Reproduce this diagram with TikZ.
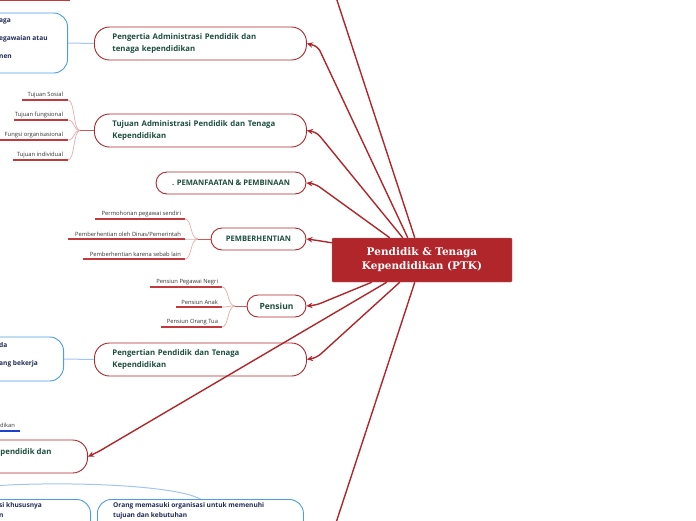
\documentclass[tikz,border=0pt]{standalone}
\usepackage{fontspec}
\setmainfont{Open Sans}
\newfontfamily\ptkfont{DejaVu Serif}
\usetikzlibrary{arrows.meta}
\definecolor{mred}{HTML}{B0262B}
\definecolor{lred}{HTML}{E9A9A9}
\definecolor{leafred}{HTML}{C23A3E}
\definecolor{tgreen}{HTML}{1D4E3F}
\definecolor{bblue}{HTML}{4A9FE3}
\definecolor{lblue}{HTML}{A3C4F3}
\definecolor{dblue}{HTML}{1E40D0}
\definecolor{navy}{HTML}{1F2B55}
\definecolor{leaftext}{HTML}{333333}
\begin{document}
\begin{tikzpicture}[x=1pt,y=-1pt,
  mbox/.style={draw=mred, line width=0.9pt, fill=white, rounded corners=15pt, text=tgreen,
    font=\bfseries\fontsize{7.8}{11.5}\selectfont, inner xsep=18pt, inner ysep=0pt,
    minimum height=33pt, align=left, text width=176pt},
  sbox/.style={draw=mred, line width=0.9pt, fill=white, rounded corners=11pt, text=tgreen,
    font=\bfseries\fontsize{7.6}{9}\selectfont, minimum height=22pt, inner sep=0pt, align=center},
  conn/.style={draw=mred, line width=1.4pt, rounded corners=5pt, -{Stealth[length=6pt,width=5.5pt]}},
  leaf/.style={text=leaftext, font=\fontsize{5.8}{6}\selectfont, anchor=south east, inner sep=0.8pt},
  leafline/.style={draw=leafred, line width=1.5pt},
  brace/.style={draw=lred, line width=0.7pt},
  stub/.style={draw=leafred!85, line width=1pt},
  bbox/.style={draw=bblue, line width=0.9pt, fill=white, rounded corners=14pt},
  btext/.style={text=navy, font=\bfseries\fontsize{6.6}{8}\selectfont, inner sep=0pt},
  bconn/.style={draw=lblue, line width=1pt}
]
\useasboundingbox (0,0) rectangle (696,520);

% clipped node at top left
\coordinate (tl0) at (-5,0.5);
\coordinate (tl1) at (70,0.5);
\draw[leafred, line width=1.5pt] (tl0) -- (tl1);

% central node
\node[fill=mred, draw=mred!70, minimum width=180pt, minimum height=44pt, inner sep=0pt,
  text=white, font=\ptkfont\bfseries\fontsize{10.5}{14}\selectfont, align=center,
  rounded corners=1pt] (ptk) at (422,260) {Pendidik \& Tenaga\\Kependidikan (PTK)};

% main boxes
\node[mbox, anchor=west] (n1) at (94,43.5) {Pengertia Administrasi Pendidik dan\\tenaga kependidikan};
\node[mbox, anchor=west] (n2) at (94,130.5) {Tujuan Administrasi Pendidik dan Tenaga\\Kependidikan};
\node[sbox, minimum width=150pt] (n3) at (231,183) {. PEMANFAATAN \& PEMBINAAN};
\node[sbox, minimum width=95pt] (n4) at (258.5,239) {PEMBERHENTIAN};
\node[sbox, minimum width=59pt, font=\bfseries\fontsize{8.5}{9}\selectfont] (n5) at (276.5,306) {Pensiun};
\node[mbox, anchor=west] (n6) at (94,359.5) {Pengertian Pendidik dan Tenaga\\Kependidikan};
\node[draw=mred, line width=0.9pt, fill=white, rounded corners=15pt, minimum width=228pt,
  minimum height=33pt, anchor=east] (n7) at (88,456.5) {};
\node[text=tgreen, font=\bfseries\fontsize{7.8}{9}\selectfont, anchor=west, inner sep=0pt] (n7t) at (0.3,452) {pendidik dan};

% blue boxes (clipped at left)
\node[bbox, minimum width=120pt, minimum height=60pt, anchor=east] (bA) at (68,43) {};
\node[btext, anchor=west] (bA1) at (-1,21) {aga};
\node[btext, anchor=west] (bA2) at (-1,39) {egawaian atau};
\node[btext, anchor=west] (bA3) at (-1,57) {nen};
\node[bbox, minimum width=120pt, minimum height=44pt, anchor=east] (bB) at (64,359) {};
\node[btext, anchor=west] (bB1) at (-1,345) {da};
\node[btext, anchor=west] (bB2) at (-1,364) {ang bekerja};
\node[text=leaftext, font=\fontsize{5.8}{6}\selectfont, anchor=south west, inner sep=0.8pt] (c1) at (-1,429) {dikan};
\coordinate (c1a) at (-2,431);
\coordinate (c1b) at (20,431);
\draw[dblue, line width=1.2pt] (c1a) -- (c1b);
\node[bbox, minimum width=190pt, minimum height=60pt, anchor=north east] (bD) at (91,499) {};
\node[btext, anchor=west] (bD1) at (-1,506) {si khususnya};
\node[btext, anchor=west] (bD2) at (-1,516) {n};
\node[bbox, minimum width=206pt, minimum height=60pt, anchor=north west] (bE) at (97,499) {};
\node[btext, anchor=west] (bE1) at (113,506) {Orang memasuki organisasi untuk memenuhi};
\node[btext, anchor=west] (bE2) at (113,516) {tujuan dan kebutuhan};

% blue connectors
\draw[bconn] (bA.east) -- (n1.west);
\draw[bconn] (bB.east) -- (n6.west);
\coordinate (bc0) at (-20,487);
\draw[bconn] (bc0) .. controls (40,481) and (170,483) .. (bE.north);

% leaves of Tujuan
\foreach \y/\xs/\t in {100/22/{Tujuan Sosial}, 120/14/{Tujuan fungsional}, 140/-2/{Fungsi organisasional}, 160/13/{Tujuan individual}}{
  \coordinate (la) at (\xs,\y);
  \coordinate (lb) at (68,\y);
  \node[leaf] (lt) at (64,\y-1.5) {\t};
  \draw[leafline] (la) -- (lb);
  \draw[brace] (lb) .. controls (75,\y) and (73,130.5) .. (80,130.5);
}
\coordinate (m2) at (80,130.5);
\draw[stub] (m2) -- (n2.west);

% leaves of Pemberhentian
\foreach \y/\xs/\t in {219/95/{Permohonan pegawai sendiri}, 239/68/{Pemberhentian oleh Dinas/Pemerintah}, 259/83/{Pemberhentian karena sebab lain}}{
  \coordinate (la) at (\xs,\y);
  \coordinate (lb) at (185,\y);
  \node[leaf] (lt) at (182,\y-1.5) {\t};
  \draw[leafline] (la) -- (lb);
  \draw[brace] (lb) .. controls (192,\y) and (190,239) .. (198,239);
}
\coordinate (m4) at (198,239);
\draw[stub] (m4) -- (n4.west);

% leaves of Pensiun
\foreach \y/\xs/\t in {287/150/{Pensiun Pegawai Negri}, 307/176/{Pensiun Anak}, 327/161/{Pensiun Orang Tua}}{
  \coordinate (la) at (\xs,\y);
  \coordinate (lb) at (222,\y);
  \node[leaf] (lt) at (219,\y-1.5) {\t};
  \draw[leafline] (la) -- (lb);
  \draw[brace] (lb) .. controls (229,\y) and (227,306) .. (235,306);
}
\coordinate (m5) at (235,306);
\draw[stub] (m5) -- (n5.west);

% connectors from the central node
\coordinate (top) at (333,-12);
\coordinate (bot) at (333,532);
\draw[mred, line width=1.4pt] ([xshift=83pt]ptk.north west) -- (top);
\draw[mred, line width=1.4pt] ([xshift=83pt]ptk.south west) -- (bot);
\draw[conn] ([xshift=76pt]ptk.north west) -- ([xshift=11pt,yshift=-3pt]n1.east) -- (n1.east);
\draw[conn] ([xshift=71pt]ptk.north west) -- ([xshift=10pt,yshift=-2pt]n2.east) -- (n2.east);
\draw[conn] ([xshift=58pt]ptk.north west) -- ([xshift=9pt,yshift=-1pt]n3.east) -- (n3.east);
\draw[conn] ([yshift=-5pt]ptk.north west) -- ([xshift=8pt,yshift=-1pt]n4.east) -- (n4.east);
\draw[conn] ([xshift=40pt]ptk.south west) -- ([xshift=10pt,yshift=1pt]n5.east) -- (n5.east);
\draw[conn] ([xshift=68pt]ptk.south west) -- ([xshift=10pt,yshift=2pt]n6.east) -- (n6.east);
\draw[conn] ([xshift=55pt]ptk.south west) -- ([xshift=9pt,yshift=4pt]n7.east) -- (n7.east);
\end{tikzpicture}
\end{document}
